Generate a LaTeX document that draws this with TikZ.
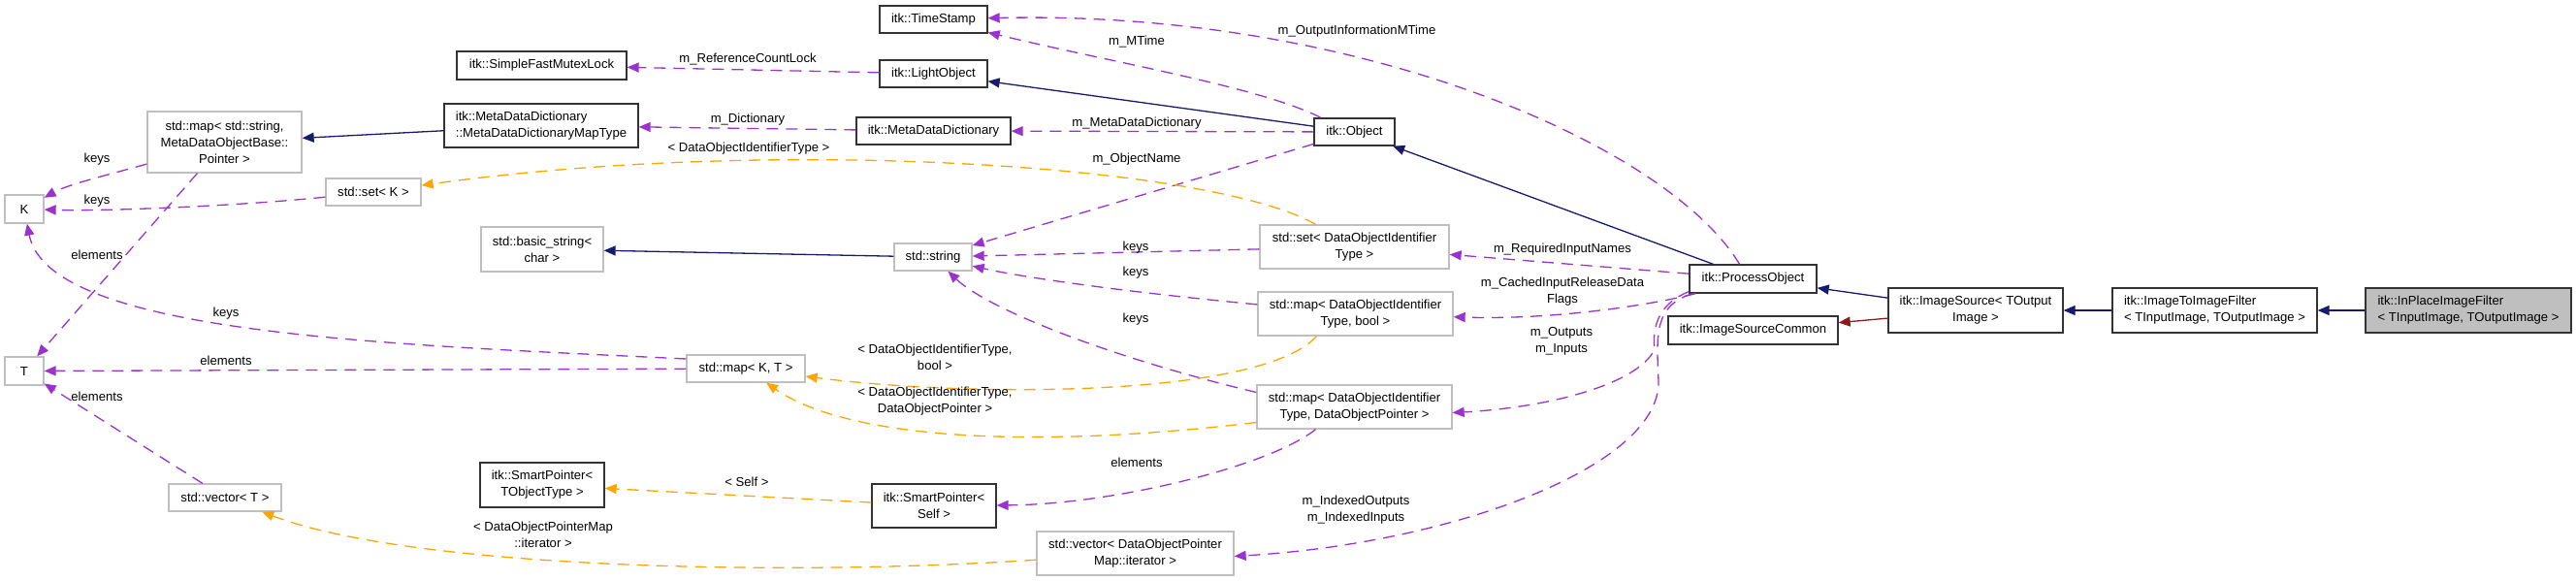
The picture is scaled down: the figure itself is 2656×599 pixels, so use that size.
\documentclass[tikz,border=0pt]{standalone}
\usepackage{fontspec}
\setmainfont{Liberation Sans}
\usepackage{tikz}
\usetikzlibrary{arrows.meta}

\definecolor{inhcol}{HTML}{191970}
\definecolor{memcol}{HTML}{9A32CD}
\definecolor{tplcol}{HTML}{FFA500}
\definecolor{protcol}{HTML}{8B1A1A}
\definecolor{boxgray}{HTML}{BFBFBF}

\begin{document}
\begin{tikzpicture}[x=1pt, y=-1pt, >={Triangle[length=12pt,width=10pt]},
	every node/.style={font=\fontsize{13.1}{17}\selectfont},
	cls/.style={draw=black!80, line width=1.3pt, inner sep=0pt, align=center},
	tmpl/.style={draw=boxgray, line width=1.3pt, inner sep=0pt, align=center},
	focus/.style={cls, fill=boxgray},
	sz/.style 2 args={minimum width=#1pt, minimum height=#2pt},
	lbl/.style={align=center, inner sep=0pt},
	inherit/.style={->, color=inhcol, line width=1.3pt},
	prot/.style={->, color=protcol, line width=1.3pt},
	member/.style={->, color=memcol, line width=1.3pt, dash pattern=on 12pt off 8pt},
	targ/.style={->, color=tplcol, line width=1.3pt, dash pattern=on 12pt off 8pt}]
	\useasboundingbox (0,0) rectangle (2656,599);

	% Nodes {classes}
	\node [cls, sz={111}{28}]	(ts)		at (962.5,20)		{itk::TimeStamp};
	\node [cls, sz={111}{28}]	(lo)		at (962.5,76)		{itk::LightObject};
	\node [cls, sz={175}{29}]	(mutex)		at (558.5,67.5)		{itk::SimpleFastMutexLock};
	\node [cls, sz={200}{45}, align=left]	(mapty)	at (558,129.5)	{itk::MetaDataDictionary\\::MetaDataDictionaryMapType};
	\node [cls, sz={159}{28}]	(mdd)		at (962.5,135)		{itk::MetaDataDictionary};
	\node [cls, sz={83}{28}]	(obj)		at (1396.5,136)		{itk::Object};
	\node [cls, sz={131}{29}]	(po)		at (1807.5,287.5)	{itk::ProcessObject};
	\node [cls, sz={175}{29}]	(isc)		at (1807.5,340.5)	{itk::ImageSourceCommon};
	\node [cls, sz={180}{46}]	(isrc)		at (2037,320)		{itk::ImageSource< TOutput\\Image >};
	\node [cls, sz={211}{46}, align=left]	(i2i)	at (2283.5,320)	{itk::ImageToImageFilter\\< TInputImage, TOutputImage >};
	\node [focus, sz={212}{46}, align=left]	(inplace)	at (2545,320)	{itk::InPlaceImageFilter\\< TInputImage, TOutputImage >};
	\node [cls, sz={128}{46}]	(sptr)		at (559,500)		{itk::SmartPointer<\\TObjectType >};
	\node [cls, sz={128}{45}]	(spself)	at (963,521.5)		{itk::SmartPointer<\\Self >};

	% Nodes {templates}
	\node [tmpl, sz={159}{63}]	(strmap)	at (231.5,146.5)	{std::map< std::string,\\MetaDataObjectBase::\\Pointer >};
	\node [tmpl, sz={40}{29}]	(K)			at (25,215.5)		{K};
	\node [tmpl, sz={40}{29}]	(T)			at (25,382.5)		{T};
	\node [tmpl, sz={98}{28}]	(setk)		at (385,198)		{std::set< K >};
	\node [tmpl, sz={126}{46}]	(bstr)		at (559,257)		{std::basic\_string<\\char >};
	\node [tmpl, sz={80}{28}]	(str)		at (962,265)		{std::string};
	\node [tmpl, sz={195}{45}]	(setid)		at (1396.5,254.5)	{std::set< DataObjectIdentifier\\Type >};
	\node [tmpl, sz={201}{45}]	(mapbool)	at (1397.5,323.5)	{std::map< DataObjectIdentifier\\Type, bool >};
	\node [tmpl, sz={201}{45}]	(mapptr)	at (1396.5,419.5)	{std::map< DataObjectIdentifier\\Type, DataObjectPointer >};
	\node [tmpl, sz={122}{28}]	(mapkt)		at (769,380)		{std::map< K, T >};
	\node [tmpl, sz={116}{28}]	(vect)		at (232,513)		{std::vector< T >};
	\node [tmpl, sz={203}{45}]	(vecit)		at (1170.5,570.5)	{std::vector< DataObjectPointer\\Map::iterator >};

	% Paths {inheritance}
	\path [inherit]	(inplace) edge (i2i)
					(i2i) edge (isrc)
					(isrc) edge (po)
					(po) edge (obj)
					(obj) edge (lo)
					(mapty) edge (strmap)
					(str) edge (bstr);
	\path [prot]	(isrc) edge (isc);

	% Paths {members}
	\path [member]	(lo) edge (mutex)
					(obj) edge (mdd)
					(mdd) edge (mapty)
					(obj) edge (str)
					(setid) edge (str)
					(po) edge (setid)
					(strmap) edge (T)
					(mapkt) edge (T)
					(vect) edge (T);
	\draw [member] (obj.157) .. controls (1300,90) and (1150,65) .. (ts);
	\draw [member] ([xshift=-14pt]po.north) .. controls (1720,150) and (1400,10) .. (ts);
	\draw [member] (strmap) .. controls (120,178) and (70,190) .. (K);
	\draw [member] (setk) .. controls (250,212) and (110,218) .. (K);
	\draw [member] ([yshift=10pt]mapkt.west) .. controls (400,355) and (50,345) .. (K);
	\draw [member] (mapbool) .. controls (1150,300) and (1050,285) .. (str);
	\draw [member] ([yshift=15pt]mapptr.west) .. controls (1150,370) and (1020,320) .. (str);
	\draw [member] ([xshift=-40pt]mapptr.south) .. controls (1310,480) and (1150,520) .. (spself);
	\draw [member] (po) .. controls (1700,315) and (1600,330) .. (mapbool);
	\draw [member] ([yshift=2pt]po.south west) .. controls (1712,312) and (1703,335) .. (1706,360)
		.. controls (1690,395) and (1600,420) .. ([yshift=-6pt]mapptr.east);
	\draw [member] ([xshift=4pt]po.south west) .. controls (1705,315) and (1708,345) .. (1710,393)
		.. controls (1712,480) and (1500,560) .. ([yshift=-3pt]vecit.east);

	% Paths {template arguments}
	\path [targ]	(spself) edge (sptr);
	\draw [targ] ([xshift=-40pt]setid.north) .. controls (1250,170) and (800,140) .. (setk);
	\draw [targ] ([xshift=-40pt]mapbool.south) .. controls (1300,410) and (1000,410) .. (mapkt);
	\draw [targ] ([yshift=-16pt]mapptr.west) .. controls (1050,465) and (870,450) .. (mapkt);
	\draw [targ] (vecit) .. controls (800,595) and (420,585) .. (vect);

	% Labels
	\node [lbl] (lb1)	at (771,61)		{m\_ReferenceCountLock};
	\node [lbl] (lb2)	at (771,123)	{m\_Dictionary};
	\node [lbl] (lb3)	at (1172,43)	{m\_MTime};
	\node [lbl] (lb4)	at (1399,32)	{m\_OutputInformationMTime};
	\node [lbl] (lb5)	at (1172,127)	{m\_MetaDataDictionary};
	\node [lbl] (lb6)	at (1172,164)	{m\_ObjectName};
	\node [lbl] (lb7)	at (772,153)	{< DataObjectIdentifierType >};
	\node [lbl] (lb8)	at (100,164)	{keys};
	\node [lbl] (lb9)	at (100,207)	{keys};
	\node [lbl] (lb10)	at (100,263)	{elements};
	\node [lbl] (lb11)	at (233,323)	{keys};
	\node [lbl] (lb12)	at (233,372)	{elements};
	\node [lbl] (lb13)	at (100,409)	{elements};
	\node [lbl] (lb14)	at (1171,255)	{keys};
	\node [lbl] (lb15)	at (1171,281)	{keys};
	\node [lbl] (lb16)	at (1171,329)	{keys};
	\node [lbl] (lb17)	at (964,368.5)	{< DataObjectIdentifierType,\\bool >};
	\node [lbl] (lb18)	at (964,414)	{< DataObjectIdentifierType,\\DataObjectPointer >};
	\node [lbl] (lb19)	at (1172,477)	{elements};
	\node [lbl] (lb20)	at (770,497)	{< Self >};
	\node [lbl] (lb21)	at (560,551.5)	{< DataObjectPointerMap\\::iterator >};
	\node [lbl] (lb22)	at (1398,525.5)	{m\_IndexedOutputs\\m\_IndexedInputs};
	\node [lbl] (lb23)	at (1611,257)	{m\_RequiredInputNames};
	\node [lbl] (lb24)	at (1611,300.5)	{m\_CachedInputReleaseData\\Flags};
	\node [lbl] (lb25)	at (1610,351.5)	{m\_Outputs\\m\_Inputs};
\end{tikzpicture}
\end{document}
